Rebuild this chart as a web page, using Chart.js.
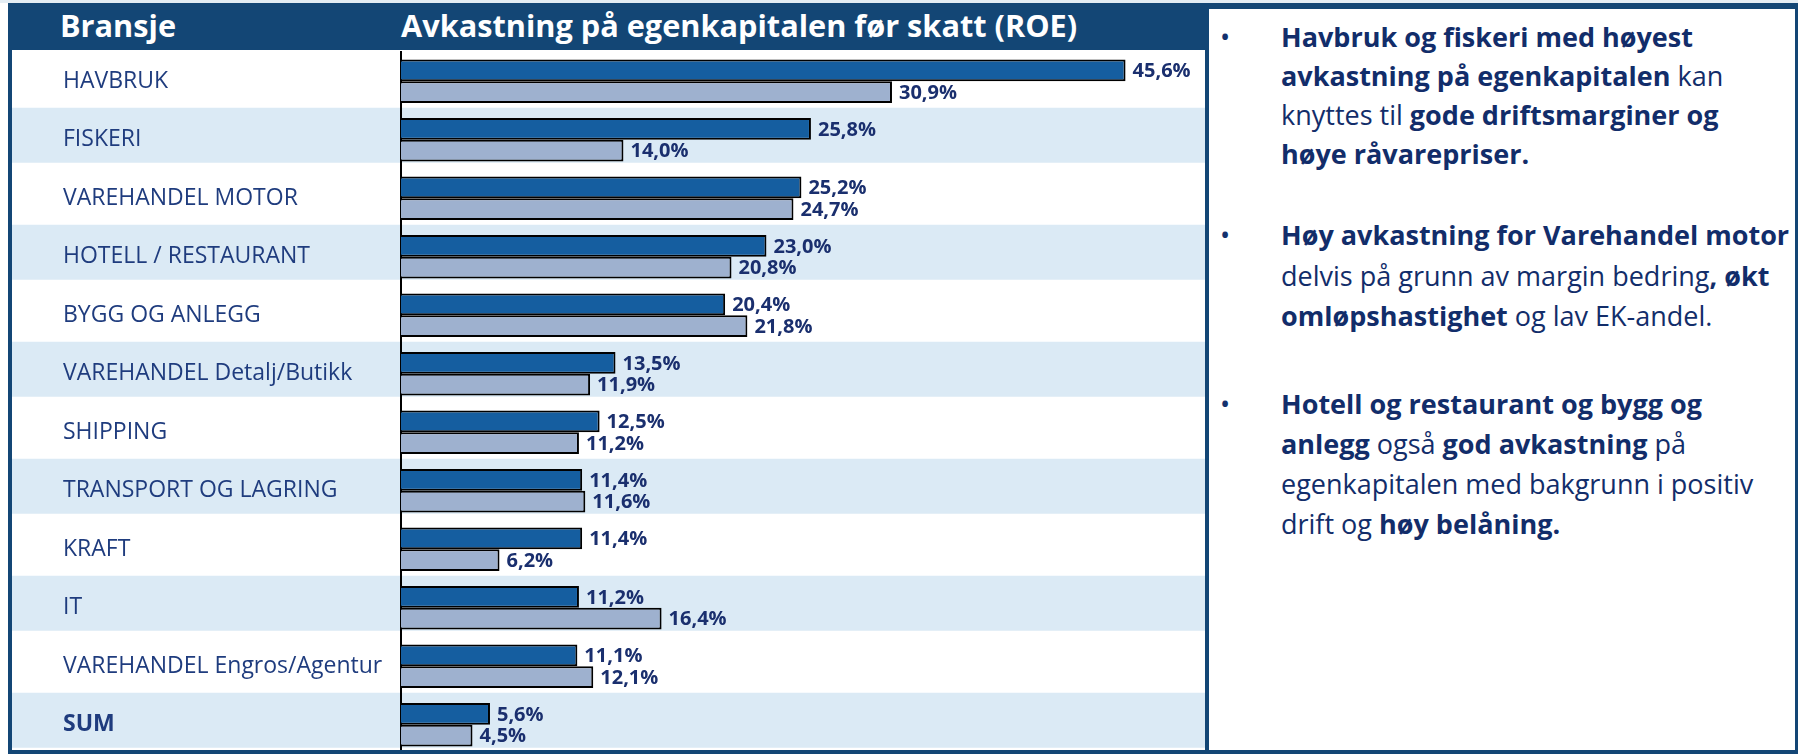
<!DOCTYPE html>
<html>
<head>
<meta charset="utf-8">
<script src="https://cdn.jsdelivr.net/npm/chart.js@4.4.0/dist/chart.umd.min.js"></script>
<style>
  html, body { margin: 0; padding: 0; background: #fff; width: 1798px; height: 754px; overflow: hidden; }
  body { position: relative; font-family: 'Open Sans', sans-serif; color: #14306d; }
  .abs { position: absolute; }
  #topline { left: 0; top: 0; width: 1798px; height: 3px; background: #e4edf4; }
  #header { left: 8px; top: 3px; width: 1197px; height: 47px; background: #134675; }
  .htitle { position: absolute; top: 0; line-height: 45px; color: #fff; font-weight: 700; font-size: 30.7px; white-space: nowrap; }
  #leftBorder { left: 8px; top: 3px; width: 4px; height: 751px; background: #134675; }
  #bottomBorder { left: 8px; top: 750px; width: 1790px; height: 4px; background: #134675; }
  #panel { left: 1205px; top: 3px; width: 593px; height: 751px; box-sizing: border-box;
           border-top: 6px solid #134675; border-left: 4px solid #134675; border-right: 3px solid #134675; border-bottom: 4px solid #134675; background: #fff; }
  .bullet { position: absolute; left: 11px; font-size: 27px; line-height: 39px; }
  .block { position: absolute; left: 72px; font-size: 27px; line-height: 39px; white-space: nowrap; color: #122d6a; }
  .block b { font-weight: 700; }
  #chartWrap { left: 12px; top: 50px; width: 1193px; height: 704px; }
</style>
</head>
<body>
<div id="topline" class="abs"></div>
<div id="chartWrap" class="abs"><canvas id="roeChart"></canvas></div>
<div id="header" class="abs">
  <div class="htitle" style="left:52px">Bransje</div>
  <div class="htitle" style="left:393px">Avkastning på egenkapitalen før skatt (ROE)</div>
</div>
<div id="leftBorder" class="abs"></div>
<div id="bottomBorder" class="abs"></div>
<div id="panel" class="abs">
  <div class="bullet" style="top:8px">•</div>
  <div class="block" style="top:8px"><b>Havbruk og fiskeri med høyest</b><br><b>avkastning på egenkapitalen</b> kan<br>knyttes til <b>gode driftsmarginer og</b><br><b>høye råvarepriser.</b></div>
  <div class="bullet" style="top:206px">•</div>
  <div class="block" style="top:206px; line-height:40.5px"><b>Høy avkastning for Varehandel motor</b><br>delvis på grunn av margin bedring<b>, økt</b><br><b>omløpshastighet</b> og lav EK-andel.</div>
  <div class="bullet" style="top:375px">•</div>
  <div class="block" style="top:375px; line-height:40px"><b>Hotell og restaurant og bygg og</b><br><b>anlegg</b> også <b>god avkastning</b> på<br>egenkapitalen med bakgrunn i positiv<br>drift og <b>høy belåning.</b></div>
</div>

<script>
// ── data ──────────────────────────────────────────────
const bransjer = [
  'HAVBRUK', 'FISKERI', 'VAREHANDEL MOTOR', 'HOTELL / RESTAURANT', 'BYGG OG ANLEGG',
  'VAREHANDEL Detalj/Butikk', 'SHIPPING', 'TRANSPORT OG LAGRING', 'KRAFT', 'IT',
  'VAREHANDEL Engros/Agentur', 'SUM'
];
const roeSiste = [45.6, 25.8, 25.2, 23.0, 20.4, 13.5, 12.5, 11.4, 11.4, 11.2, 11.1, 5.6];
const roeForrige = [30.9, 14.0, 24.7, 20.8, 21.8, 11.9, 11.2, 11.6, 6.2, 16.4, 12.1, 4.5];
const xMax = 50.6;

const BAND = '#dbeaf5';

// light blue bands behind every second row
const rowBands = {
  id: 'rowBands',
  beforeDraw(chart) {
    const { ctx } = chart;
    const y = chart.scales.y;
    ctx.save();
    ctx.fillStyle = BAND;
    bransjer.forEach((_, i) => {
      if (i % 2 === 0) return;
      const c = y.getPixelForValue(i);
      ctx.fillRect(0, c - 32, chart.width, 55);
    });
    ctx.restore();
  }
};

// value labels right of each bar
const barLabels = {
  id: 'barLabels',
  afterDatasetsDraw(chart) {
    const { ctx } = chart;
    ctx.save();
    ctx.font = 'bold 20px "Open Sans"';
    ctx.fillStyle = '#1a2f6e';
    ctx.textAlign = 'left';
    ctx.textBaseline = 'middle';
    chart.data.datasets.forEach((ds, di) => {
      chart.getDatasetMeta(di).data.forEach((bar, i) => {
        const txt = ds.data[i].toFixed(1).replace('.', ',') + '%';
        ctx.fillText(txt, bar.x + 7, bar.y + 1);
      });
    });
    ctx.restore();
  }
};

new Chart(document.getElementById('roeChart'), {
  type: 'bar',
  data: {
    labels: bransjer,
    datasets: [
      { data: roeSiste, backgroundColor: '#155ea0', borderColor: '#000', borderWidth: 2, borderSkipped: 'start' },
      { data: roeForrige, backgroundColor: '#9eb1cf', borderColor: '#000', borderWidth: 2, borderSkipped: 'start' }
    ]
  },
  options: {
    indexAxis: 'y',
    responsive: true,
    maintainAspectRatio: false,
    animation: false,
    layout: { padding: { left: 51, top: 2, right: 0, bottom: 0 } },
    datasets: { bar: { categoryPercentage: 0.74, barPercentage: 1.0 } },
    plugins: { legend: { display: false }, tooltip: { enabled: false } },
    scales: {
      x: { display: false, min: 0, max: xMax },
      y: {
        afterFit: s => { s.width = 338; s.paddingTop = 0; s.paddingBottom = 0; },
        grid: { display: false },
        border: { display: true, color: '#000', width: 2 },
        ticks: {
          crossAlign: 'far',
          autoSkip: false,
          padding: 0,
          color: '#1f3c7e',
          font: ctx => ({ family: 'Open Sans', size: 23, weight: ctx.index === 11 ? 'bold' : 'normal' })
        }
      }
    }
  },
  plugins: [rowBands, barLabels]
});
</script>
</body>
</html>
